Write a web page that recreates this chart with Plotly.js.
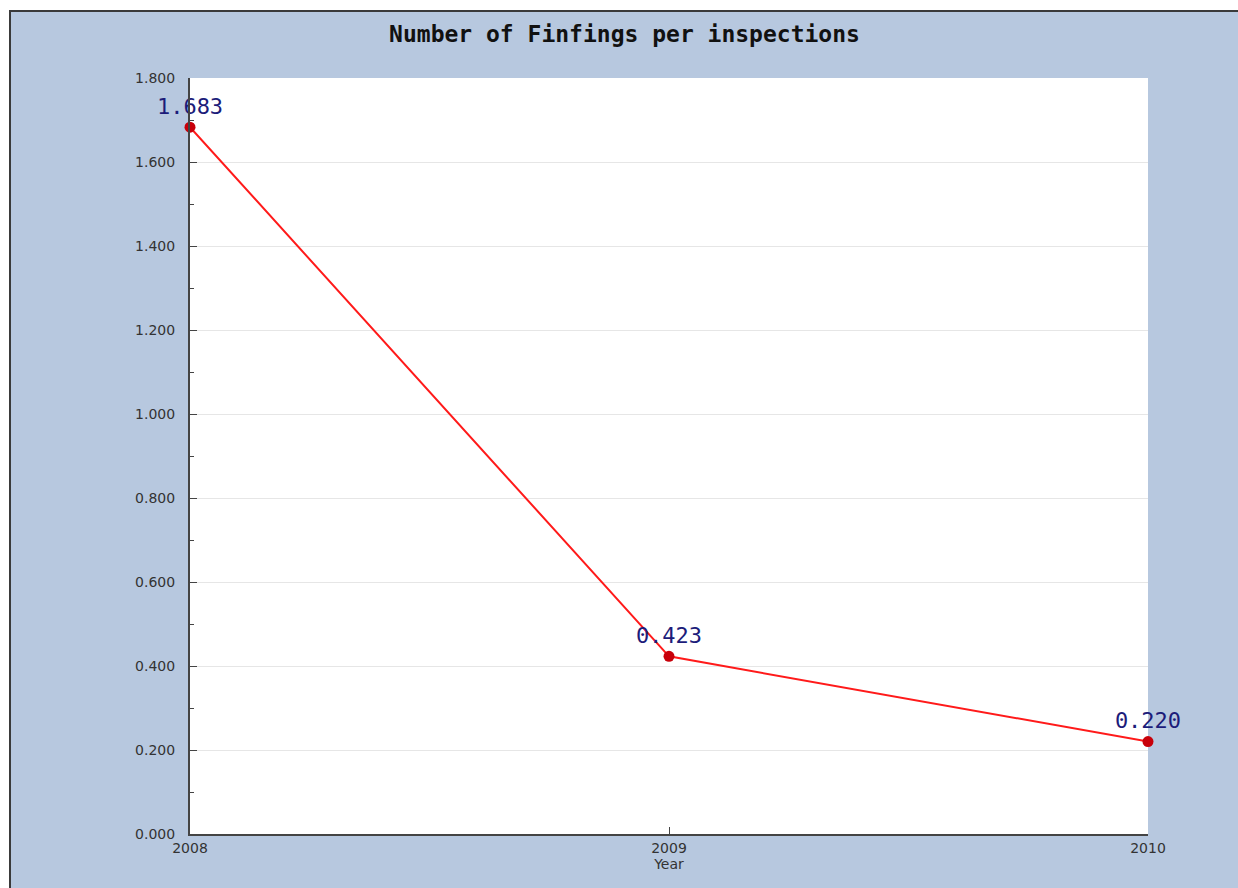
<!DOCTYPE html>
<html>
<head>
<meta charset="utf-8">
<script src="https://cdn.plot.ly/plotly-3.0.1.min.js"></script>
<style>
  html, body { margin: 0; padding: 0; background: #ffffff; width: 1238px; height: 888px; overflow: hidden; }
  #chart { position: absolute; left: 9px; top: 10px; width: 1229px; height: 878px;
           border-top: 2px solid #3a3a3a; border-left: 2px solid #3a3a3a; box-sizing: border-box; }
</style>
</head>
<body>
<div id="chart"></div>
<script>
const years = [2008, 2009, 2010];
const findingsPerInspection = [1.683, 0.423, 0.220];
const yTickVals = [0, 0.2, 0.4, 0.6, 0.8, 1.0, 1.2, 1.4, 1.6, 1.8];

const trace = {
  x: years,
  y: findingsPerInspection,
  type: 'scatter',
  mode: 'lines+markers+text',
  text: findingsPerInspection.map(v => v.toFixed(3)),
  textposition: 'top center',
  textfont: { family: 'DejaVu Sans Mono', size: 22, color: '#1c1c7a' },
  line: { color: '#ff1a1a', width: 2 },
  marker: { color: '#c8000a', size: 11 },
  cliponaxis: false,
  hoverinfo: 'x+y'
};

const layout = {
  width: 1227,
  height: 876,
  paper_bgcolor: '#b7c8df',
  plot_bgcolor: '#ffffff',
  margin: { l: 179, r: 90, t: 66, b: 54 },
  showlegend: false,
  title: {
    text: 'Number of Finfings per inspections',
    font: { family: 'DejaVu Sans Mono', size: 23, color: '#111111', weight: 'bold' },
    x: 0.5, xanchor: 'center', y: 0.975, yanchor: 'middle'
  },
  xaxis: {
    type: 'linear',
    range: [2008, 2010],
    tickvals: years,
    ticktext: years.map(String),
    ticks: 'inside',
    ticklen: 7,
    tickcolor: '#444',
    showgrid: false,
    zeroline: false,
    showline: true,
    linecolor: '#444',
    linewidth: 2,
    tickfont: { family: 'DejaVu Sans', size: 14, color: '#333' },
    title: { text: 'Year', font: { family: 'DejaVu Sans', size: 14, color: '#333' }, standoff: 0 }
  },
  yaxis: {
    range: [0, 1.8],
    tickvals: yTickVals,
    tickformat: '.3f',
    ticks: 'inside',
    ticklen: 7,
    tickcolor: '#444',
    ticklabelstandoff: 10,
    showgrid: true,
    gridcolor: '#e6e6e6',
    gridwidth: 1,
    zeroline: false,
    showline: true,
    linecolor: '#444',
    linewidth: 2,
    tickfont: { family: 'DejaVu Sans', size: 14, color: '#333' },
    minor: { dtick: 0.1, tick0: 0, ticks: 'inside', ticklen: 4, tickcolor: '#444', showgrid: false }
  }
};

Plotly.newPlot('chart', [trace], layout, { displayModeBar: false, staticPlot: true });
</script>
</body>
</html>
